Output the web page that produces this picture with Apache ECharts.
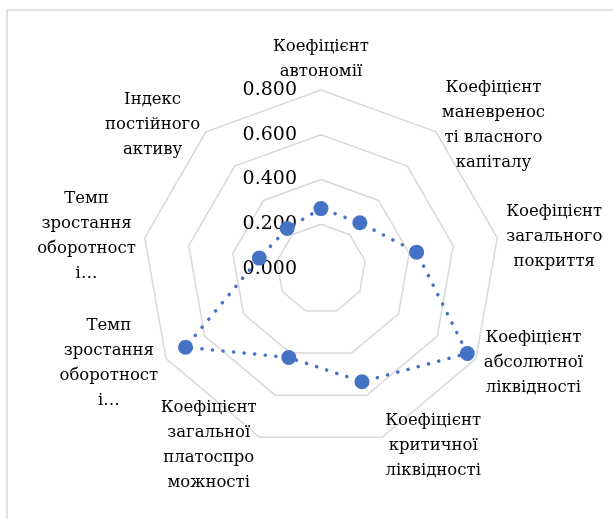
<!DOCTYPE html>
<html>
<head>
<meta charset="utf-8">
<script src="https://cdn.jsdelivr.net/npm/echarts@6/dist/echarts.min.js"></script>
<style>
  html, body { margin: 0; padding: 0; background: #fff; }
  #chart { width: 613px; height: 519px; }
</style>
</head>
<body>
<div id="chart"></div>
<script>
// показники, за годинниковою стрілкою від верху
const categories = [
  'Коефіцієнт\nавтономії',
  'Коефіцієнт\nманевренос\nті власного\nкапіталу',
  'Коефіцієнт\nзагального\nпокриття',
  'Коефіцієнт\nабсолютної\nліквідності',
  'Коефіцієнт\nкритичної\nліквідності',
  'Коефіцієнт\nзагальної\nплатоспро\nможності',
  'Темп\nзростання\nоборотност\nі…',
  'Темп\nзростання\nоборотност\nі…',
  'Індекс\nпостійного\nактиву'
]
const values = [0.27, 0.27, 0.434, 0.755, 0.536, 0.421, 0.699, 0.28, 0.236]
const axisMax = 0.8
const axisSplits = 4

const serif = 'DejaVu Serif'

// echarts кладе показники проти годинникової стрілки, тому розвертаємо порядок
const order = [0].concat(categories.map((c, i) => i).slice(1).reverse())

const indicators = order.map((i, k) => {
  const item = { name: categories[i], min: 0, max: axisMax }
  if (k === 0) {
    // підписи шкали тільки на верхній осі
    item.axisLabel = { show: true }
    item.isTop = true
  }
  return item
})

// верхній підпис трохи ближче до осі
const nameFormatter = (name, ind) => {
  const lines = name.split('\n')
  if (ind && ind.isTop) {
    return lines.map((l, i) => (i === lines.length - 1 ? '{b|' : '{t|') + l + '}').join('\n')
  }
  return lines.map(l => '{c|' + l + '}').join('\n')
}

const nameStyle = { align: 'center', color: '#000', fontFamily: serif, fontSize: 16.5, lineHeight: 25 }

const chart = echarts.init(document.getElementById('chart'))
chart.setOption({
  backgroundColor: '#fff',
  animation: false,
  textStyle: { fontFamily: serif },
  graphic: [{
    type: 'rect',
    shape: { x: 7, y: 10, width: 640, height: 540 },
    style: { fill: 'none', stroke: '#D9D9D9', lineWidth: 1.5 },
    silent: true
  }],
  radar: {
    center: [321, 269],
    radius: 179,
    startAngle: 90,
    splitNumber: axisSplits,
    shape: 'polygon',
    indicator: indicators,
    axisName: {
      color: '#000',
      fontFamily: serif,
      fontSize: 16.5,
      lineHeight: 25,
      formatter: nameFormatter,
      rich: {
        c: nameStyle,
        t: Object.assign({}, nameStyle, { lineHeight: 35 }),
        b: Object.assign({}, nameStyle, { lineHeight: 15 })
      }
    },
    nameGap: 9,
    axisLine: { show: false },
    axisTick: { show: false },
    axisLabel: {
      show: false,
      color: '#000',
      fontFamily: serif,
      fontSize: 19,
      margin: 24,
      formatter: (v) => v.toFixed(3)
    },
    splitLine: { lineStyle: { color: '#D9D9D9', width: 1.5 } },
    splitArea: { show: false }
  },
  series: [{
    type: 'radar',
    symbol: 'circle',
    symbolSize: 15,
    itemStyle: { color: '#4472C4' },
    lineStyle: { color: '#4472C4', width: 3.5, type: [0.1, 10.5], cap: 'round' },
    data: [{ value: order.map(i => values[i]) }]
  }]
})
</script>
</body>
</html>
